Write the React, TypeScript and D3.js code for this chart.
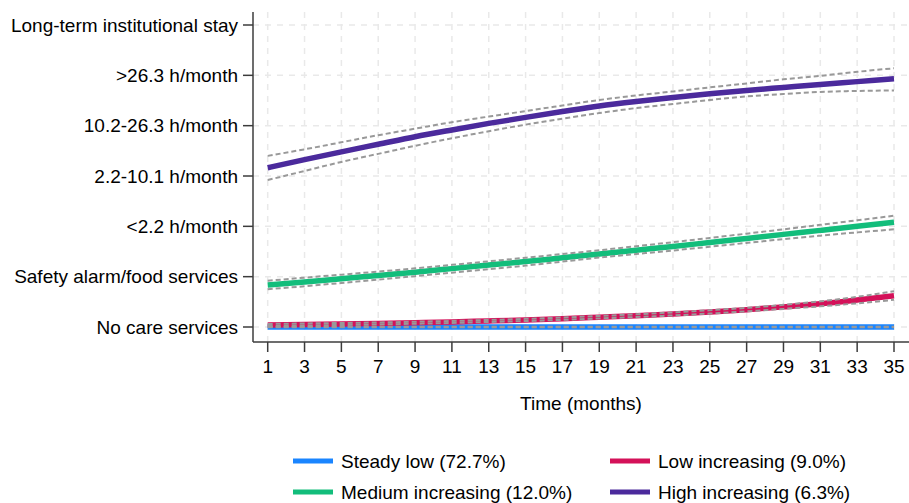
import React from "react";
import * as d3 from "d3";

const months = [1, 3, 5, 7, 9, 11, 13, 15, 17, 19, 21, 23, 25, 27, 29, 31, 33, 35];
const yLevels = [
  "No care services",
  "Safety alarm/food services",
  "<2.2 h/month",
  "2.2-10.1 h/month",
  "10.2-26.3 h/month",
  ">26.3 h/month",
  "Long-term institutional stay",
];

const steadyLow = months.map(() => 0);
const steadyLowUpper = months.map(() => 0.005);
const steadyLowLower = months.map(() => -0.005);

const lowInc = [0.04, 0.05, 0.06, 0.07, 0.085, 0.1, 0.12, 0.14, 0.165, 0.195, 0.225, 0.26, 0.3, 0.345, 0.4, 0.46, 0.535, 0.62];
const lowIncUpper = [0.06, 0.07, 0.08, 0.09, 0.105, 0.12, 0.14, 0.162, 0.188, 0.22, 0.252, 0.29, 0.333, 0.38, 0.44, 0.51, 0.6, 0.71];
const lowIncLower = [0.02, 0.03, 0.04, 0.05, 0.065, 0.08, 0.1, 0.118, 0.142, 0.17, 0.198, 0.23, 0.267, 0.31, 0.36, 0.41, 0.47, 0.54];

const medInc = [0.834, 0.895, 0.96, 1.025, 1.09, 1.16, 1.23, 1.3, 1.375, 1.45, 1.525, 1.6, 1.68, 1.76, 1.84, 1.92, 2.0, 2.08];
const medIncUpper = [0.92, 0.98, 1.04, 1.1, 1.165, 1.235, 1.305, 1.375, 1.45, 1.525, 1.605, 1.685, 1.77, 1.855, 1.94, 2.03, 2.12, 2.21];
const medIncLower = [0.75, 0.81, 0.875, 0.94, 1.01, 1.08, 1.15, 1.22, 1.3, 1.38, 1.45, 1.52, 1.595, 1.67, 1.745, 1.815, 1.88, 1.94];

const highInc = [3.165, 3.325, 3.48, 3.63, 3.78, 3.915, 4.045, 4.165, 4.28, 4.39, 4.48, 4.56, 4.635, 4.7, 4.76, 4.82, 4.875, 4.93];
const highIncUpper = [3.4, 3.53, 3.67, 3.81, 3.94, 4.07, 4.18, 4.29, 4.4, 4.51, 4.6, 4.68, 4.76, 4.84, 4.92, 4.99, 5.07, 5.14];
const highIncLower = [2.92, 3.1, 3.28, 3.44, 3.6, 3.75, 3.89, 4.02, 4.14, 4.25, 4.35, 4.43, 4.51, 4.58, 4.63, 4.67, 4.69, 4.7];

const seriesNames = ["Steady low (72.7%)", "Low increasing (9.0%)", "Medium increasing (12.0%)", "High increasing (6.3%)"];
const seriesColors = ["#1a85ff", "#d41159", "#12bd7b", "#4b2a9c"];

const series = [
  { mean: steadyLow, up: steadyLowUpper, lo: steadyLowLower },
  { mean: lowInc, up: lowIncUpper, lo: lowIncLower },
  { mean: medInc, up: medIncUpper, lo: medIncLower },
  { mean: highInc, up: highIncUpper, lo: highIncLower },
];

const FONT = "'Liberation Sans', Arial, sans-serif";

export default function App() {
  const W = 909;
  const H = 503;
  const axisX = 253;
  const axisY = 342;
  const x = d3.scaleLinear().domain([1, 35]).range([267.7, 894]);
  const y = d3.scaleLinear().domain([0, 6]).range([327, 25]);

  const line = (vals: number[]) =>
    d3
      .line<number>()
      .x((_, i) => x(months[i]))
      .y((v) => y(v))
      .curve(d3.curveMonotoneX)(vals) || "";

  const gridColor = "#e9e9e9";
  const axisColor = "#3c3c3c";

  return (
    <svg
      width={W}
      height={H}
      style={{ position: "fixed", left: 0, top: 0, background: "#fff" }}
      fontFamily={FONT}
    >
      <rect x={0} y={0} width={W} height={H} fill="#fff" />
      {/* grid */}
      {months.map((m) => (
        <line
          key={"vg" + m}
          x1={x(m)}
          x2={x(m)}
          y1={12}
          y2={axisY}
          stroke={gridColor}
          strokeWidth={1.5}
          strokeDasharray="6,6"
        />
      ))}
      {yLevels.map((_, i) => (
        <line
          key={"hg" + i}
          x1={axisX}
          x2={W + 10}
          y1={y(i)}
          y2={y(i)}
          stroke={gridColor}
          strokeWidth={1.5}
          strokeDasharray="6,6"
        />
      ))}
      {/* lines */}
      {series.map((s, i) => (
        <path key={"m" + i} d={line(s.mean)} fill="none" stroke={seriesColors[i]} strokeWidth={5.5} />
      ))}
      {series.map((s, i) => (
        <g key={"ci" + i}>
          <path d={line(s.up)} fill="none" stroke="#999" strokeWidth={2} strokeDasharray="5,3" />
          <path d={line(s.lo)} fill="none" stroke="#999" strokeWidth={2} strokeDasharray="5,3" />
        </g>
      ))}
      {/* axes */}
      <line x1={axisX} x2={axisX} y1={12} y2={axisY} stroke={axisColor} strokeWidth={1.5} />
      <line x1={axisX} x2={W + 10} y1={axisY} y2={axisY} stroke={axisColor} strokeWidth={1.5} />
      {yLevels.map((lab, i) => (
        <g key={"yt" + i}>
          <line x1={axisX - 10} x2={axisX} y1={y(i)} y2={y(i)} stroke={axisColor} strokeWidth={1.5} />
          <text x={238} y={y(i)} dy="0.35em" textAnchor="end" fontSize={19} fill="#000">
            {lab}
          </text>
        </g>
      ))}
      {months.map((m) => (
        <g key={"xt" + m}>
          <line x1={x(m)} x2={x(m)} y1={axisY} y2={axisY + 10} stroke={axisColor} strokeWidth={1.5} />
          <text x={x(m)} y={372.5} textAnchor="middle" fontSize={19} fill="#000">
            {m}
          </text>
        </g>
      ))}
      <text x={581} y={410} textAnchor="middle" fontSize={19} fill="#000">
        Time (months)
      </text>
      {/* legend */}
      {seriesNames.map((name, i) => {
        const col = i % 2;
        const row = Math.floor(i / 2);
        const sx = col === 0 ? 293 : 610;
        const sy = row === 0 ? 461 : 492;
        return (
          <g key={"lg" + i}>
            <line x1={sx} x2={sx + 40} y1={sy} y2={sy} stroke={seriesColors[i]} strokeWidth={5} />
            <text x={sx + 48} y={sy} dy="0.35em" fontSize={19} fill="#000">
              {name}
            </text>
          </g>
        );
      })}
    </svg>
  );
}
